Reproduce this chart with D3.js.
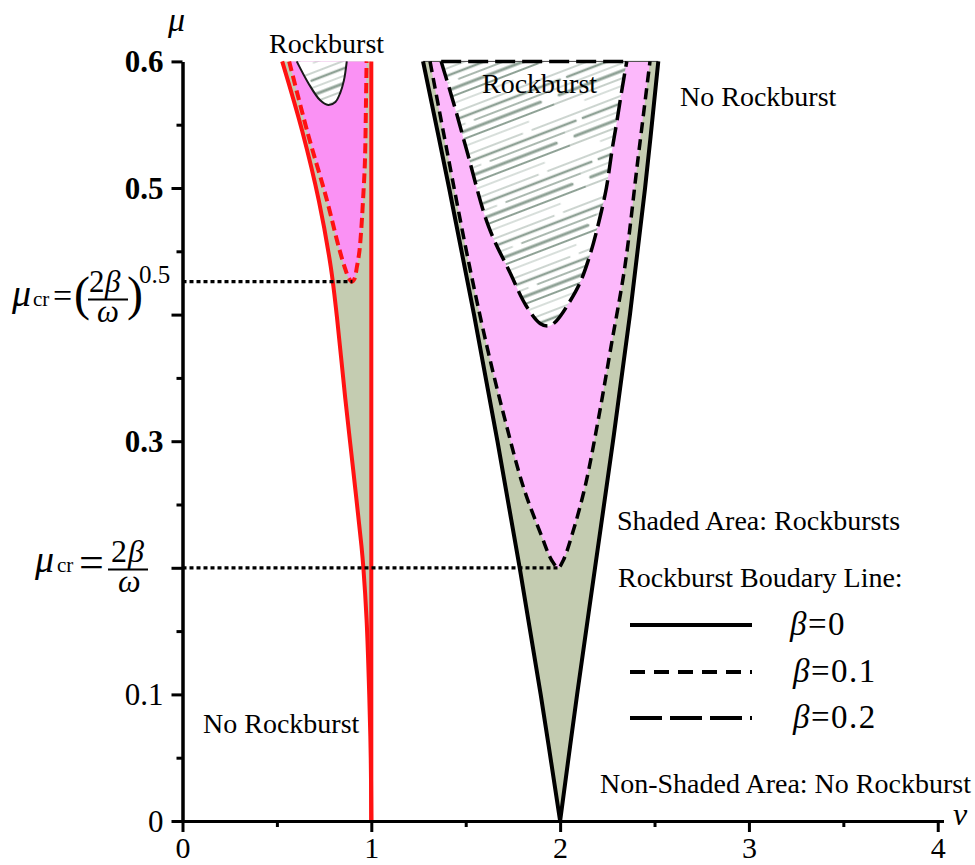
<!DOCTYPE html>
<html>
<head>
<meta charset="utf-8">
<script src="https://cdn.jsdelivr.net/npm/d3@7"></script>
<style>
  body { margin: 0; background: #fff; }
  svg { display: block; font-family: "Liberation Serif", "DejaVu Serif", serif; }
</style>
</head>
<body>
<svg id="chart" width="975" height="865"></svg>
<script>
// ---- Data (nu, mu) ----
// tongue near nu = 1 (red), beta = 0 boundaries
const t1Mu = [0, 0.05, 0.1, 0.159, 0.2, 0.217, 0.276, 0.334, 0.398, 0.438, 0.49, 0.545, 0.6];
const t1LeftNu = [1.0, 0.997, 0.989, 0.975, 0.958, 0.948, 0.905, 0.862, 0.818, 0.785, 0.722, 0.634, 0.528];
const t1RightMu = [0, 0.6];
const t1RightNu = [1.0, 1.0];
// tongue near nu = 1, beta = 0.1 (red dashed)
const t1Beta1Nu = [0.565, 0.662, 0.762, 0.83, 0.86, 0.88, 0.897, 0.91, 0.924, 0.937, 0.948, 0.956, 0.966, 0.972, 0.975];
const t1Beta1Mu = [0.6, 0.544, 0.492, 0.452, 0.437, 0.429, 0.426, 0.428, 0.438, 0.45, 0.47, 0.49, 0.52, 0.57, 0.6];
// tongue near nu = 1, beta = 0.2 (thin black)
const t1Beta2Nu = [0.605, 0.666, 0.728, 0.772, 0.81, 0.835, 0.855, 0.87];
const t1Beta2Mu = [0.6, 0.583, 0.5695, 0.5656, 0.568, 0.575, 0.585, 0.6];

// tongue near nu = 2 (black), beta = 0 boundaries
const t2Mu = [0, 0.1, 0.2, 0.3, 0.4, 0.5, 0.6];
const t2LeftNu = [2.0, 1.897, 1.786, 1.668, 1.544, 1.412, 1.274];
const t2RightNu = [2.0, 2.09, 2.185, 2.28, 2.37, 2.45, 2.52];
// beta = 0.1 (short dash)
const t2Beta1Nu = [1.311, 1.40, 1.519, 1.62, 1.708, 1.805, 1.902, 1.955, 1.99, 2.017, 2.061, 2.132, 2.202, 2.27, 2.344, 2.41, 2.476];
const t2Beta1Mu = [0.6, 0.53, 0.439, 0.37, 0.317, 0.264, 0.225, 0.206, 0.2, 0.206, 0.225, 0.264, 0.317, 0.375, 0.439, 0.52, 0.6];
// beta = 0.2 (long dash)
const t2Beta2Nu = [1.37, 1.44, 1.505, 1.62, 1.735, 1.82, 1.894, 1.94, 1.98, 2.05, 2.105, 2.16, 2.2, 2.245, 2.275, 2.3, 2.33, 2.353];
const t2Beta2Mu = [0.6, 0.565, 0.53, 0.47, 0.433, 0.407, 0.393, 0.391, 0.395, 0.41, 0.425, 0.448, 0.47, 0.5, 0.53, 0.552, 0.58, 0.6];

// critical amplitudes (dotted lines)
const critMu = [0.426, 0.2];
const critNu = [0.9, 1.99];

// ticks
const xMajor = [0, 1, 2, 3, 4];
const xMinor = [0.5, 1.5, 2.5, 3.5];
const yMajor = [0, 0.1, 0.2, 0.3, 0.4, 0.5, 0.6];
const yLabels = ["0", "0.1", "", "0.3", "", "0.5", "0.6"];
const yMinor = [0.05, 0.15, 0.25, 0.35, 0.45, 0.55];

// colors
const red = "#ff1212";
const olive = "#c4ccb1";
const pink1 = "#fa91f4";
const pink2 = "#fcb8fb";
const hatchColor = "#8fa296";

const svg = d3.select("#chart");

// Scales
const x = d3.scaleLinear().domain([0, 4.03]).range([182.5, 943.4]);
const y = d3.scaleLinear().domain([0, 0.6]).range([821, 61.4]);

const pts = (nu, mu) => nu.map((v, i) => [v, mu[i]]);
const line = d3
  .line()
  .x((d) => x(d[0]))
  .y((d) => y(d[1]))
  .curve(d3.curveCatmullRom.alpha(0.5));

// close two branches into one region
function region(a, b) {
  return line(a) + line(b.slice().reverse()).replace(/^M/, "L") + "Z";
}

// Hatch pattern (sketchy strokes)
const defs = svg.append("defs");
const pat = defs
  .append("pattern")
  .attr("id", "hatch")
  .attr("patternUnits", "userSpaceOnUse")
  .attr("width", 240)
  .attr("height", 44)
  .attr("patternTransform", "rotate(-21)");
pat.append("rect").attr("width", 240).attr("height", 44).attr("fill", "#fff");
const strokes = [
  [0, 200, 4, 0.9], [210, 240, 4, 0.9], [22, 240, 11, 2.6], [0, 14, 11, 2.6],
  [0, 150, 18, 0.8], [160, 240, 18, 1.5], [8, 228, 25, 3.2], [0, 120, 32, 1.1],
  [130, 240, 32, 1.9], [30, 210, 39, 0.7],
];
strokes.forEach(([a, b, yy, w]) => {
  pat
    .append("line")
    .attr("x1", a).attr("x2", b).attr("y1", yy).attr("y2", yy)
    .attr("stroke", hatchColor)
    .attr("stroke-width", w)
    .attr("stroke-linecap", "round");
});

const plot = svg.append("g");

// ---- Fills ----
// tongue 1
plot.append("path")
  .attr("d", region(pts(t1LeftNu, t1Mu), pts(t1RightNu, t1RightMu)))
  .attr("fill", olive);
plot.append("path")
  .attr("d", line(pts(t1Beta1Nu, t1Beta1Mu)) + "Z")
  .attr("fill", pink1);
plot.append("path")
  .attr("d", line(pts(t1Beta2Nu, t1Beta2Mu)) + "Z")
  .attr("fill", "url(#hatch)");

// tongue 2
plot.append("path")
  .attr("d", region(pts(t2LeftNu, t2Mu), pts(t2RightNu, t2Mu)))
  .attr("fill", olive);
plot.append("path")
  .attr("d", line(pts(t2Beta1Nu, t2Beta1Mu)) + "Z")
  .attr("fill", pink2);
plot.append("path")
  .attr("d", line(pts(t2Beta2Nu, t2Beta2Mu)) + "Z")
  .attr("fill", "url(#hatch)");

// thin top edge of tongue 2
plot.append("line")
  .attr("x1", x(t2LeftNu[t2LeftNu.length - 1]))
  .attr("x2", x(t2RightNu[t2RightNu.length - 1]))
  .attr("y1", y(0.6)).attr("y2", y(0.6))
  .attr("stroke", "#444").attr("stroke-width", 1);

// ---- Lines ----
function drawLine(d, color, width, dash) {
  plot.append("path")
    .attr("d", d)
    .attr("fill", "none")
    .attr("stroke", color)
    .attr("stroke-width", width)
    .attr("stroke-dasharray", dash || null);
}

// tongue 1
drawLine(line(pts(t1LeftNu, t1Mu)), red, 4);
drawLine(line(pts(t1RightNu, t1RightMu)), red, 4);
drawLine(line(pts(t1Beta1Nu, t1Beta1Mu)), red, 4, "10,5");
drawLine(line(pts(t1Beta2Nu, t1Beta2Mu)), "#1a1a1a", 2);

// tongue 2
drawLine(line(pts(t2LeftNu, t2Mu)), "#000", 4);
drawLine(line(pts(t2RightNu, t2Mu)), "#000", 4);
drawLine(line(pts(t2Beta1Nu, t2Beta1Mu)), "#000", 3.5, "11,6");
drawLine(line(pts(t2Beta2Nu, t2Beta2Mu)), "#000", 3.5, "20,7");
drawLine(
  `M${x(t2Beta2Nu[0])},${y(0.6)}H${x(t2Beta2Nu[t2Beta2Nu.length - 1])}`,
  "#000", 3.5, "20,7"
);

// dotted critical lines
critMu.forEach((m, i) => {
  plot.append("line")
    .attr("x1", x(0)).attr("x2", x(critNu[i]))
    .attr("y1", y(m)).attr("y2", y(m))
    .attr("stroke", "#000")
    .attr("stroke-width", 3.2)
    .attr("stroke-dasharray", "4,3");
});

// ---- Axes ----
const yAxis = d3.axisLeft(y)
  .tickValues(yMajor)
  .tickSize(11)
  .tickSizeOuter(0)
  .tickPadding(8)
  .tickFormat((d, i) => yLabels[i]);
const yAxisMinor = d3.axisLeft(y).tickValues(yMinor).tickSize(6).tickSizeOuter(0).tickFormat("");
const xAxis = d3.axisBottom(x)
  .tickValues(xMajor)
  .tickSize(11)
  .tickSizeOuter(0)
  .tickPadding(5)
  .tickFormat(d3.format("d"));
const xAxisMinor = d3.axisBottom(x).tickValues(xMinor).tickSize(6).tickSizeOuter(0).tickFormat("");

const gy = svg.append("g").attr("transform", `translate(${x(0)},0)`).call(yAxis);
svg.append("g").attr("transform", `translate(${x(0)},0)`).call(yAxisMinor);
const gx = svg.append("g").attr("transform", `translate(0,${y(0)})`).call(xAxis);
svg.append("g").attr("transform", `translate(0,${y(0)})`).call(xAxisMinor);

svg.selectAll(".domain, .tick line").attr("stroke", "#000").attr("stroke-width", 3);
svg.selectAll(".tick text")
  .attr("fill", "#000")
  .style("font-family", '"Liberation Serif", serif')
  .style("font-size", "30px");
gy.selectAll(".tick text")
  .attr("dy", "0.34em")
  .style("font-size", "31px")
  .style("font-weight", (d) => (d >= 0.3 ? "bold" : "normal"));

// ---- Text ----
function txt(tx, ty, str, size, italic) {
  return svg.append("text")
    .attr("x", tx).attr("y", ty)
    .style("font-size", size + "px")
    .style("font-style", italic ? "italic" : "normal")
    .attr("fill", "#000")
    .text(str);
}

txt(168, 31, "μ", 34, true);
txt(953, 825, "ν", 32, true);

txt(269, 53, "Rockburst", 28);
txt(482, 93, "Rockburst", 28);
txt(680, 106, "No Rockburst", 28);
txt(203, 733, "No Rockburst", 28);
txt(617, 530, "Shaded Area: Rockbursts", 28);
txt(618, 587, "Rockburst Boudary Line:", 28);
txt(600, 793, "Non-Shaded Area: No Rockburst", 28);

// mu_cr = (2beta/omega)^0.5
txt(12, 306, "μ", 38, true);
txt(33, 306, "cr", 21);
txt(53, 307, "=", 34);
txt(74, 310, "(", 48);
txt(89, 292, "2", 31);
txt(105, 292, "β", 31, true);
svg.append("line").attr("x1", 88).attr("x2", 128).attr("y1", 299.5).attr("y2", 299.5)
  .attr("stroke", "#000").attr("stroke-width", 2);
txt(97, 322, "ω", 31, true);
txt(127, 310, ")", 48);
txt(139, 283, "0.5", 25);

// mu_cr = 2beta/omega
txt(35, 572, "μ", 38, true);
txt(57, 572, "cr", 21);
txt(79, 577, "=", 44);
txt(111, 562, "2", 32);
txt(128, 562, "β", 32, true);
svg.append("line").attr("x1", 108).attr("x2", 148).attr("y1", 569.5).attr("y2", 569.5)
  .attr("stroke", "#000").attr("stroke-width", 2);
txt(118, 592, "ω", 32, true);

// ---- Legend ----
const legendDash = [null, "15,9", "32,8"];
const legendText = ["0", "0.1", "0.2"];
const legendY = [625, 672, 718];
legendY.forEach((ly, i) => {
  svg.append("line")
    .attr("x1", 630).attr("x2", 752)
    .attr("y1", ly).attr("y2", ly)
    .attr("stroke", "#000").attr("stroke-width", 4)
    .attr("stroke-dasharray", legendDash[i]);
  const t = svg.append("text")
    .attr("x", i === 0 ? 790 : 793).attr("y", ly + 10)
    .style("font-size", "33px")
    .style("letter-spacing", "1.5px")
    .attr("fill", "#000");
  t.append("tspan").style("font-style", "italic").text("β");
  t.append("tspan").text("=" + legendText[i]);
});
</script>
</body>
</html>
